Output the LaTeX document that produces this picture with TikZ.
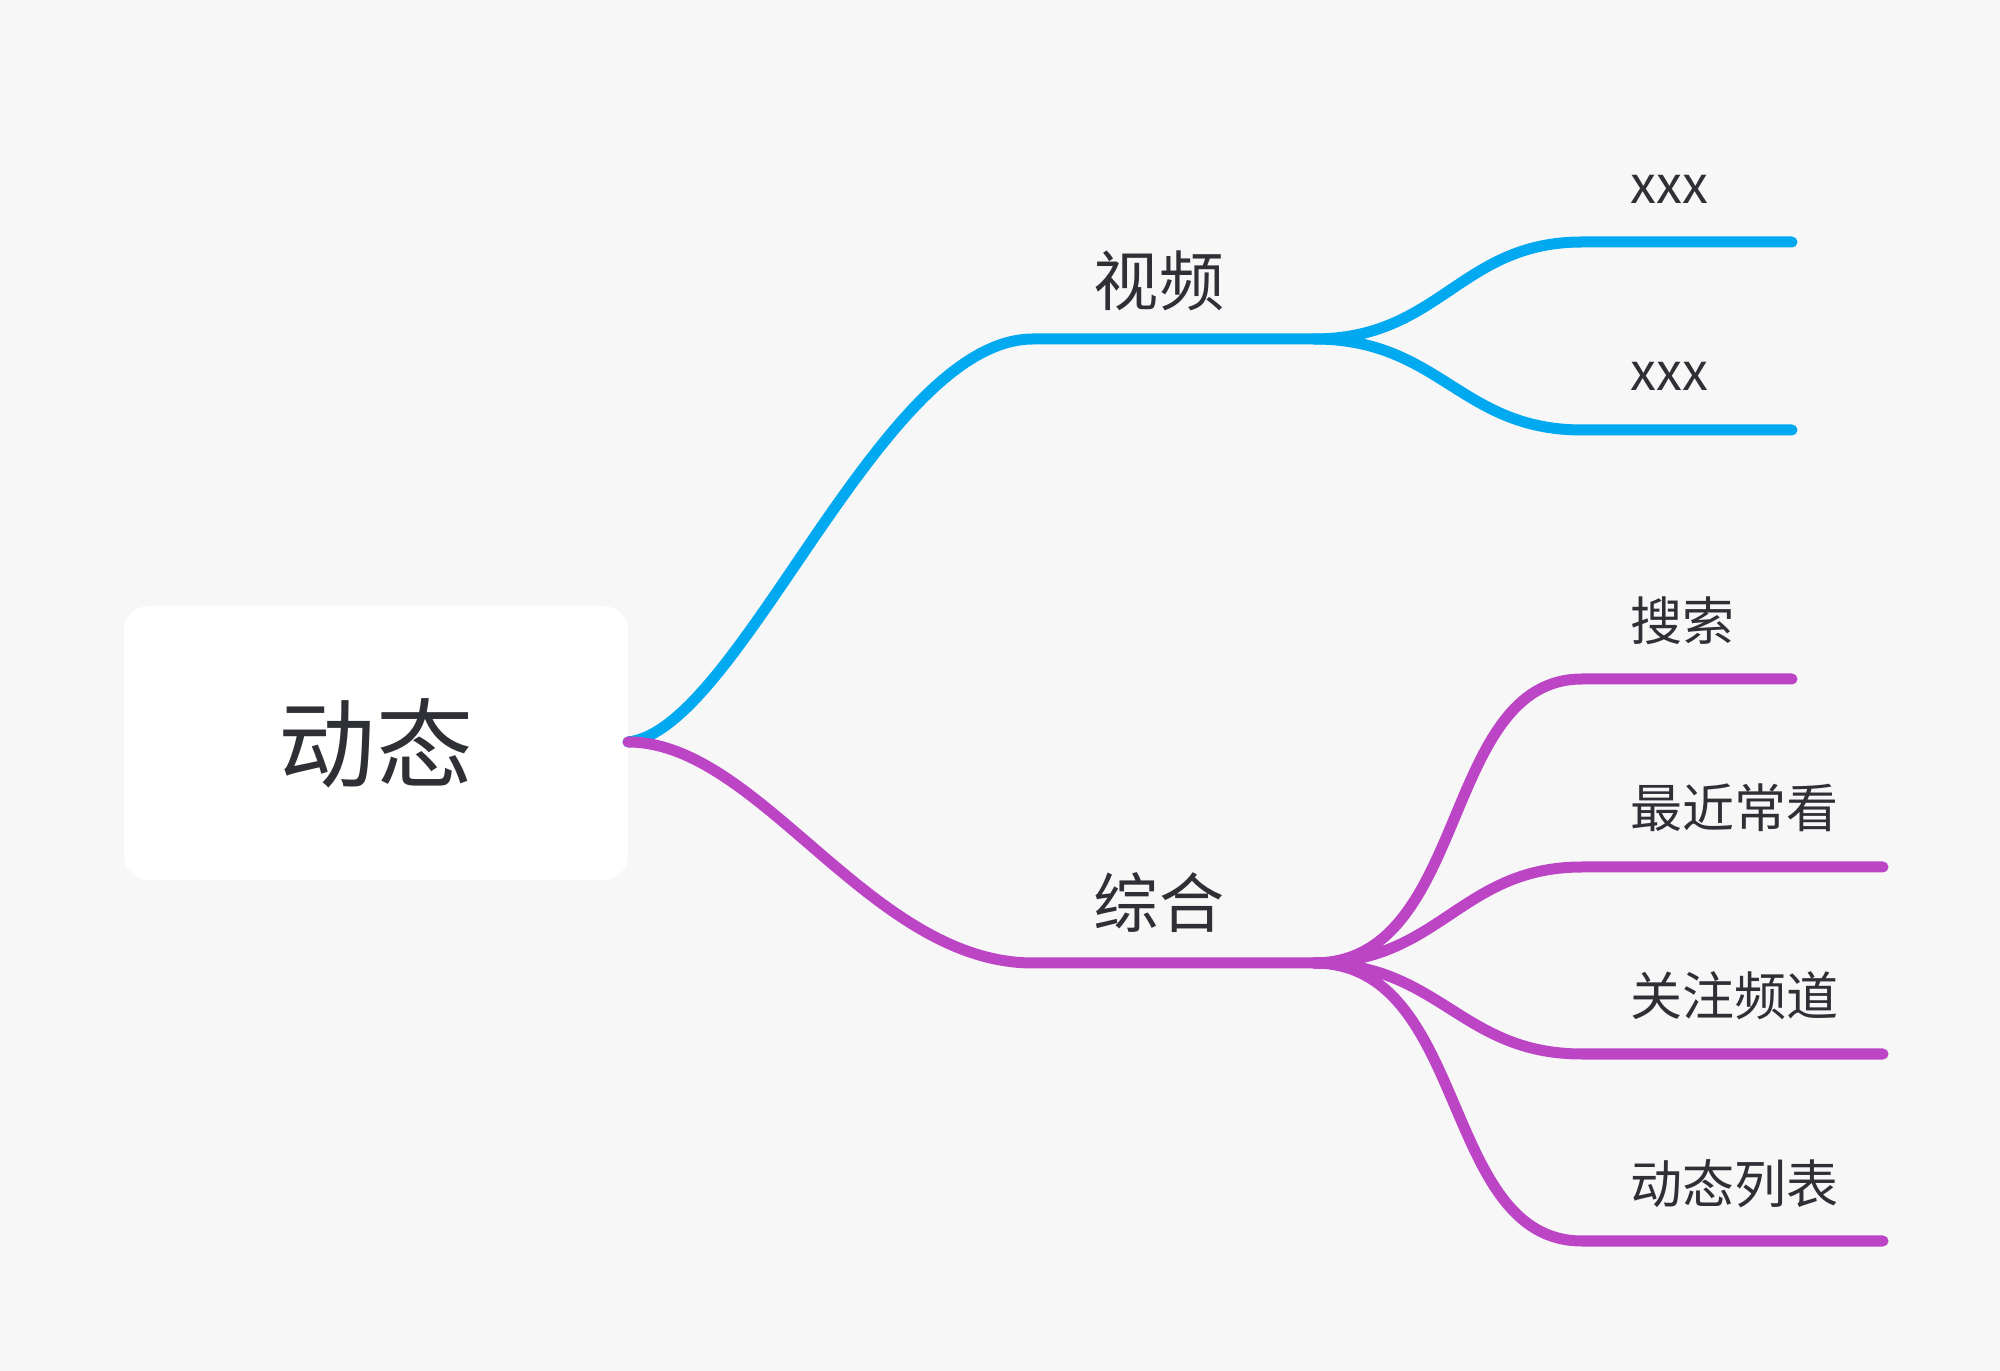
\documentclass[tikz,border=0pt]{standalone}
\usepackage{fontspec}
\setmainfont{Noto Sans CJK SC}
\usepackage{tikz}
\usetikzlibrary{positioning}
\definecolor{bgcol}{HTML}{F7F7F7}
\definecolor{txtcol}{HTML}{2E3036}
\definecolor{bluebr}{HTML}{00A9F0}
\definecolor{purplebr}{HTML}{BC45C6}

\begin{document}
\begin{tikzpicture}[
    x=0.01cm, y=-0.01cm,
    rootbox/.style={rectangle, fill=white, rounded corners=0.25cm, minimum width=5.04cm, minimum height=2.74cm, align=center, text=txtcol, font=\fontsize{27.6pt}{30pt}\selectfont},
    midlabel/.style={inner sep=0pt, text=txtcol, font=\fontsize{18.5pt}{20pt}\selectfont},
    leaflabel/.style={anchor=west, inner sep=0pt, text=txtcol, font=\fontsize{14.8pt}{16pt}\selectfont},
    branch/.style={line width=0.11cm, line cap=round}
]
    % Background
    \fill[bgcol] (0,0) rectangle (2000,1371);

    % Root
    \node[rootbox] (root) at (376,743) {动态};
    \coordinate (rootout) at (628,742);

    % Main branches
    \coordinate (vidjoin) at (1033,339);
    \coordinate (vidend) at (1314,339);
    \coordinate (mixjoin) at (1033,963);
    \coordinate (mixend) at (1314,963);
    \node[midlabel] (video) at (1159,281) {视频};
    \node[midlabel] (mix) at (1159,903) {综合};

    % Leaf line ends
    \coordinate (xa) at (1582,242);   \coordinate (xaend) at (1792,242);
    \coordinate (xb) at (1582,430);   \coordinate (xbend) at (1792,430);
    \coordinate (sa) at (1582,679);   \coordinate (saend) at (1792,679);
    \coordinate (sb) at (1582,867);   \coordinate (sbend) at (1883,867);
    \coordinate (sc) at (1582,1054);  \coordinate (scend) at (1883,1054);
    \coordinate (sd) at (1582,1241);  \coordinate (sdend) at (1883,1241);

    % Leaf labels
    \node[leaflabel] (xxxa) at (1630,189) {xxx};
    \node[leaflabel] (xxxb) at (1630,376) {xxx};
    \node[leaflabel] (search) at (1630,621) {搜索};
    \node[leaflabel] (recent) at (1630,808) {最近常看};
    \node[leaflabel] (follow) at (1630,996) {关注频道};
    \node[leaflabel] (feed) at (1630,1184) {动态列表};

    % Blue branch
    \draw[branch, bluebr] (rootout) .. controls (740,730) and (880,339) .. (vidjoin) -- (vidend);
    \draw[branch, bluebr] (vidend) .. controls (1440,339) and (1460,242) .. (xa) -- (xaend);
    \draw[branch, bluebr] (vidend) .. controls (1440,339) and (1460,430) .. (xb) -- (xbend);

    % Purple branch
    \draw[branch, purplebr] (rootout) .. controls (760,742) and (870,963) .. (mixjoin) -- (mixend);
    \draw[branch, purplebr] (mixend) .. controls (1470,963) and (1440,679) .. (sa) -- (saend);
    \draw[branch, purplebr] (mixend) .. controls (1440,963) and (1460,867) .. (sb) -- (sbend);
    \draw[branch, purplebr] (mixend) .. controls (1440,963) and (1460,1054) .. (sc) -- (scend);
    \draw[branch, purplebr] (mixend) .. controls (1470,963) and (1440,1241) .. (sd) -- (sdend);

\end{tikzpicture}
\end{document}
